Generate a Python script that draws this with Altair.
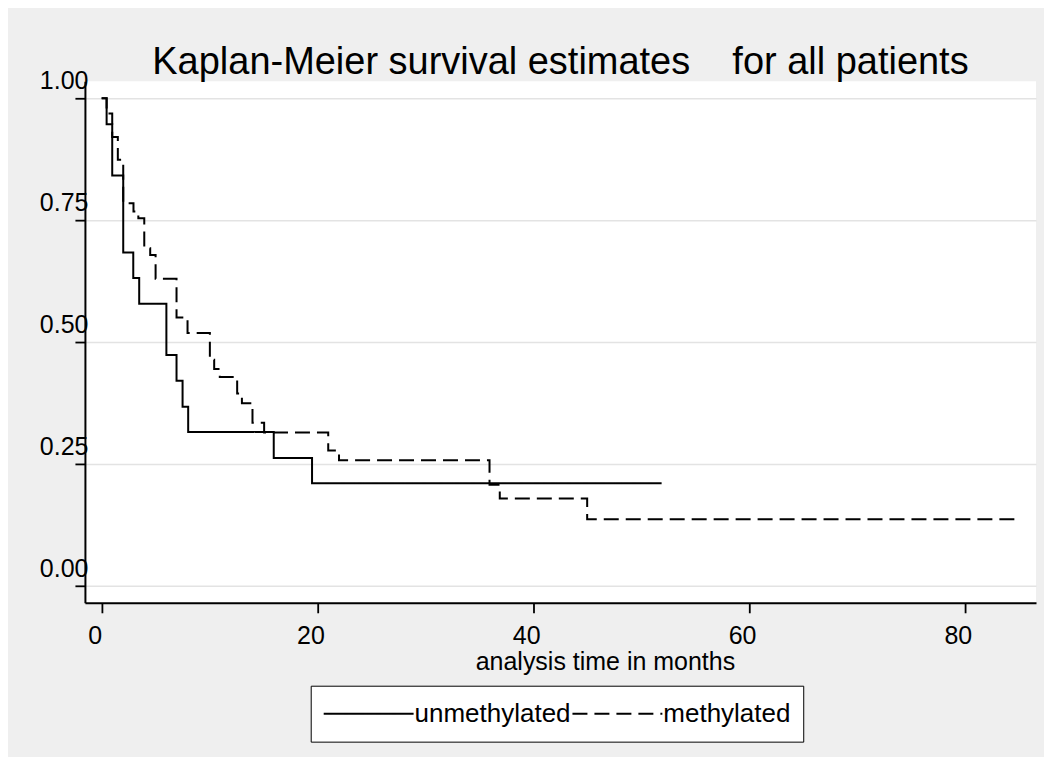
import altair as alt
import pandas as pd

# ---- data ----
groups = ["unmethylated", "methylated"]

unmeth_t = [0, 0.46, 0.98, 2.0, 2.93, 3.48, 6.0, 6.94, 7.5, 8.02, 15.95, 19.5, 51.9]
unmeth_s = [1.0, 0.947, 0.842, 0.684, 0.632, 0.579, 0.474, 0.421, 0.368, 0.316, 0.263, 0.211, 0.211]

meth_t = [0, 0.46, 0.98, 1.5, 2.0, 2.95, 3.4, 3.95, 4.5, 5.0, 6.94, 7.96, 10.03, 10.43,
          10.95, 12.56, 13.0, 13.98, 15.06, 21.0, 22.0, 35.95, 36.9, 45.0, 85.0]
meth_s = [1.0, 0.969, 0.921, 0.874, 0.785, 0.768, 0.754, 0.693, 0.679, 0.630, 0.551, 0.519,
          0.464, 0.445, 0.429, 0.395, 0.375, 0.335, 0.315, 0.278, 0.258, 0.208, 0.180, 0.137, 0.137]

x_ticks = [0, 20, 40, 60, 80]
y_ticks = [0.0, 0.25, 0.5, 0.75, 1.0]

title_text = "Kaplan-Meier survival estimates\u00a0\u00a0\u00a0 for all patients"
x_title = "analysis time in months"

rows = []
for t, s in zip(unmeth_t, unmeth_s):
    rows.append({"t": t, "s": s, "group": groups[0]})
for t, s in zip(meth_t, meth_s):
    rows.append({"t": t, "s": s, "group": groups[1]})
df = pd.DataFrame(rows)

FONT = "Liberation Sans"

chart = (
    alt.Chart(df, title=alt.Title(
        title_text, font=FONT, fontSize=38, fontWeight="normal", color="black",
        anchor="middle", frame="group", baseline="alphabetic", offset=0, dy=44))
    .mark_line(interpolate="step-after", color="black", strokeWidth=2, strokeCap="butt")
    .encode(
        x=alt.X("t:Q",
                scale=alt.Scale(domain=[-1.55, 86.6], nice=False, zero=False),
                axis=alt.Axis(values=x_ticks, title=x_title, grid=False,
                              labelFont=FONT, labelFontSize=25, labelColor="black",
                              labelBaseline="top", labelPadding=11, labelOffset=-7,
                              labelFlush=False, labelOverlap=False,
                              tickSize=10, tickWidth=1.8, tickColor="black",
                              domainColor="black", domainWidth=2,
                              titleFont=FONT, titleFontSize=25, titleFontWeight="normal",
                              titleColor="black", titleX=520.5, titleY=66.5,
                              titleAlign="center", titleBaseline="alphabetic")),
        y=alt.Y("s:Q",
                scale=alt.Scale(domain=[-0.034, 1.035], nice=False, zero=False),
                axis=alt.Axis(values=y_ticks, format=".2f", title=None, grid=True,
                              gridColor="#e3e3e3", gridWidth=1.5,
                              labelFont=FONT, labelFontSize=25, labelColor="black",
                              labelAlign="right", labelBaseline="alphabetic",
                              labelPadding=-13, labelOffset=-10,
                              labelFlush=False, labelOverlap=False,
                              tickSize=10, tickWidth=1.8, tickColor="black",
                              domainColor="black", domainWidth=2)),
        strokeDash=alt.StrokeDash(
            "group:N",
            scale=alt.Scale(domain=groups, range=[[1, 0], [15, 7]]),
            legend=alt.Legend(
                title=None, orient="none", legendX=226, legendY=605,
                direction="horizontal", columns=2,
                symbolType="stroke", symbolSize=8100, symbolStrokeWidth=2,
                symbolStrokeColor="black",
                labelFont=FONT, labelFontSize=26, labelColor="black",
                labelOffset=0, columnPadding=0, padding=12, clipHeight=32,
                fillColor="white", strokeColor="black", labelLimit=400)),
    )
    .properties(
        width=952, height=522,
        autosize=alt.AutoSizeParams(type="none"),
        padding={"left": 77, "top": 73, "right": 8, "bottom": 154},
        background="#efefef",
    )
    .configure_view(fill="white", stroke=None)
)

chart.save("out.html", embed_options={"renderer": "svg", "actions": False})
